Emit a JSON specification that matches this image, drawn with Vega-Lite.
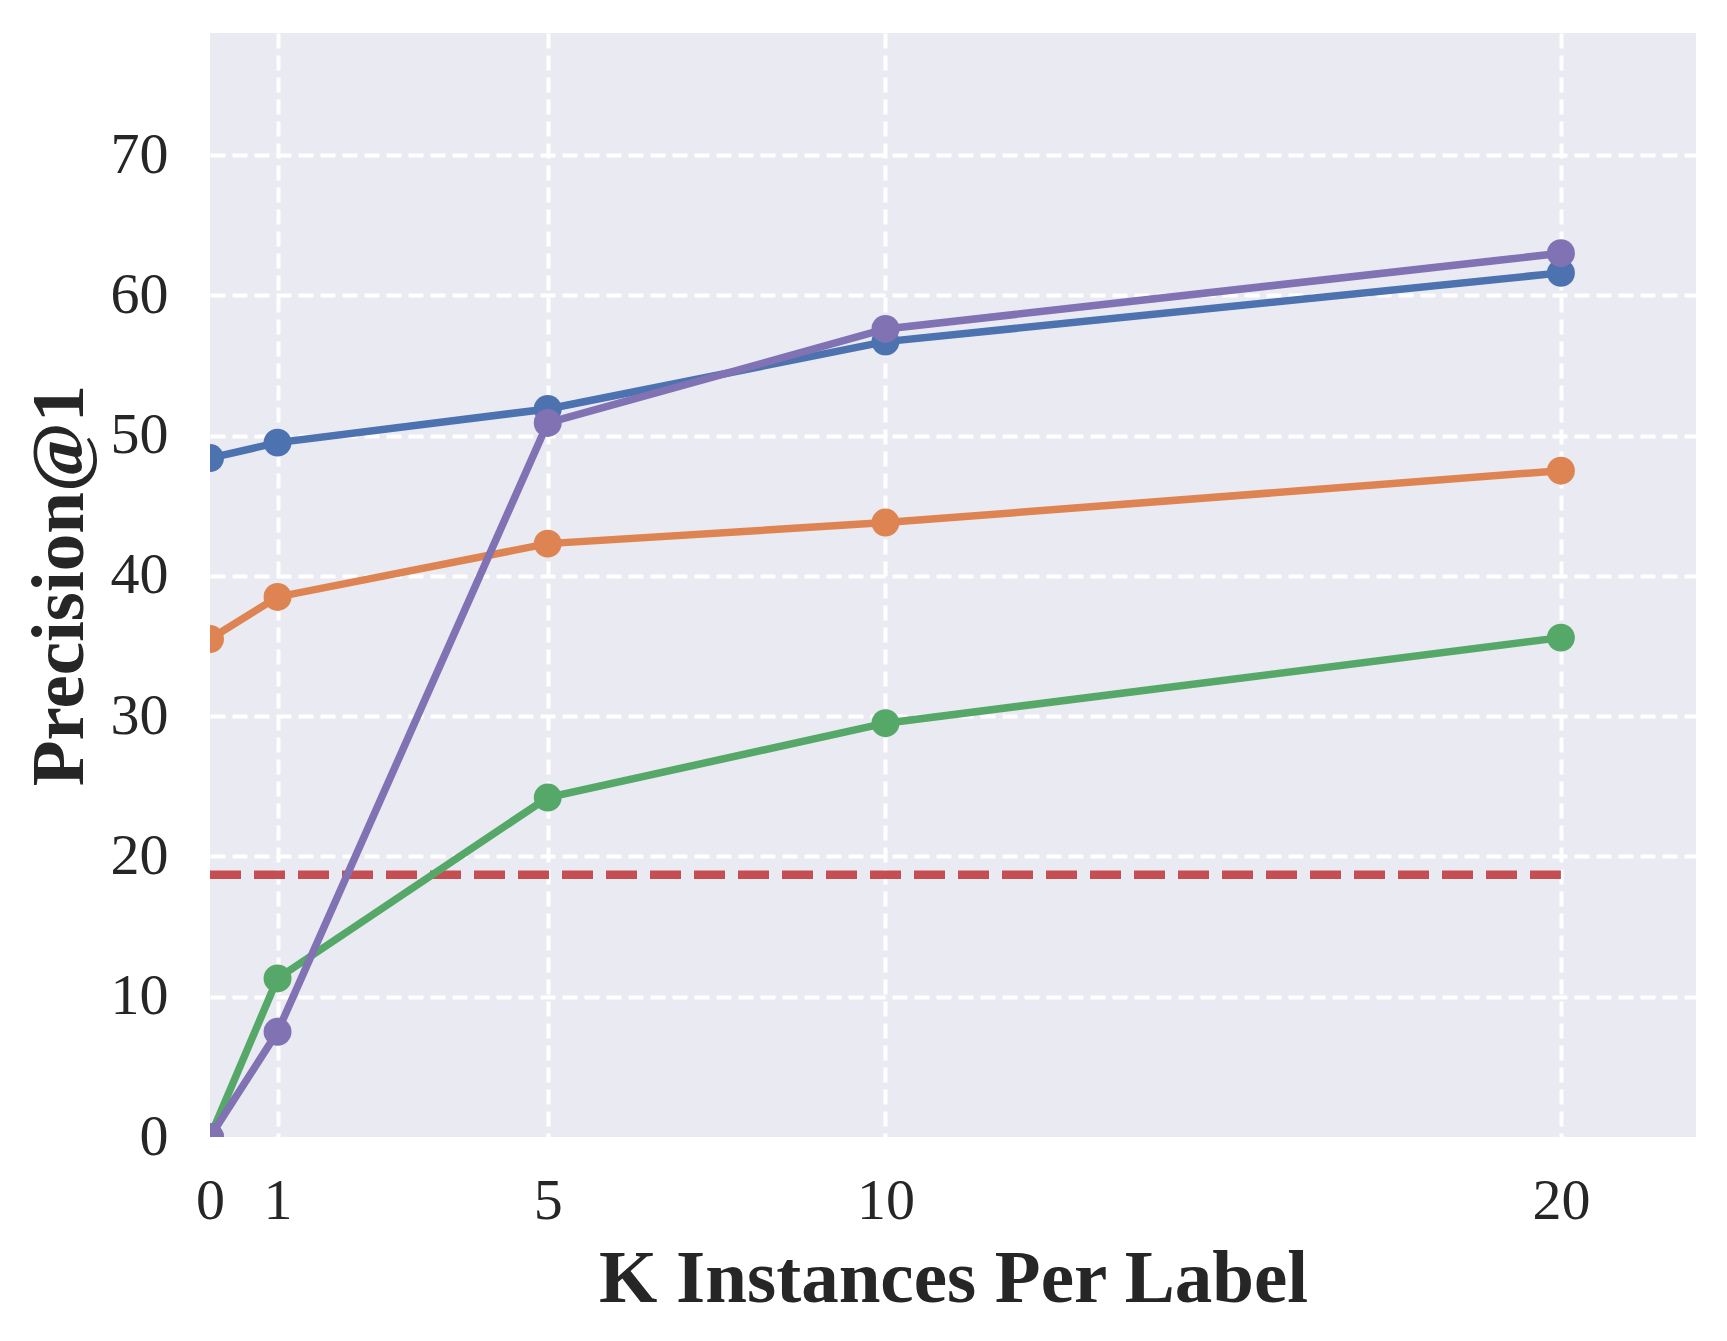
{
  "$schema": "https://vega.github.io/schema/vega-lite/v6.json",
  "width": 1486,
  "height": 1104,
  "autosize": {"type": "none"},
  "padding": {"left": 210, "top": 33, "right": 31, "bottom": 204},
  "background": "white",
  "config": {
    "view": {"fill": "#EAEAF2", "stroke": null},
    "axis": {
      "domain": false,
      "ticks": false,
      "grid": true,
      "gridColor": "white",
      "gridWidth": 4,
      "gridDash": [15, 7],
      "gridOpacity": {"condition": {"test": "datum.value === 0", "value": 0}, "value": 1},
      "labelFont": "Liberation Serif",
      "labelFontSize": 58,
      "labelColor": "#262626",
      "titleFont": "Liberation Serif",
      "titleFontSize": 75,
      "titleFontWeight": "bold",
      "titleColor": "#262626"
    }
  },
  "datasets": {
    "series": [
      {"method": "Method A", "k": 0, "p": 48.4},
      {"method": "Method A", "k": 1, "p": 49.5},
      {"method": "Method A", "k": 5, "p": 51.9},
      {"method": "Method A", "k": 10, "p": 56.7},
      {"method": "Method A", "k": 20, "p": 61.6},
      {"method": "Method B", "k": 0, "p": 35.5},
      {"method": "Method B", "k": 1, "p": 38.5},
      {"method": "Method B", "k": 5, "p": 42.3},
      {"method": "Method B", "k": 10, "p": 43.8},
      {"method": "Method B", "k": 20, "p": 47.5},
      {"method": "Method C", "k": 0, "p": 0.0},
      {"method": "Method C", "k": 1, "p": 11.3},
      {"method": "Method C", "k": 5, "p": 24.2},
      {"method": "Method C", "k": 10, "p": 29.5},
      {"method": "Method C", "k": 20, "p": 35.6},
      {"method": "Method D", "k": 0, "p": 0.0},
      {"method": "Method D", "k": 1, "p": 7.5},
      {"method": "Method D", "k": 5, "p": 50.9},
      {"method": "Method D", "k": 10, "p": 57.6},
      {"method": "Method D", "k": 20, "p": 63.0}
    ],
    "baseline": [
      {"method": "Baseline", "k": 0, "p": 18.7},
      {"method": "Baseline", "k": 20, "p": 18.7}
    ]
  },
  "encoding": {
    "x": {
      "field": "k",
      "type": "quantitative",
      "scale": {"domain": [0, 22], "nice": false, "zero": false},
      "axis": {"values": [0, 1, 5, 10, 20], "title": "K Instances Per Label", "labelPadding": 35, "titlePadding": 12, "labelFlush": false}
    },
    "y": {
      "field": "p",
      "type": "quantitative",
      "scale": {"domain": [0, 78.7], "nice": false},
      "axis": {"values": [0, 10, 20, 30, 40, 50, 60, 70], "title": "Precision@1", "labelPadding": 42, "titlePadding": 12}
    },
    "color": {
      "field": "method",
      "type": "nominal",
      "scale": {
        "domain": ["Method A", "Method B", "Method C", "Method D", "Baseline"],
        "range": ["#4C72B0", "#DD8452", "#55A868", "#8172B3", "#C44E52"]
      },
      "legend": null
    }
  },
  "layer": [
    {
      "data": {"name": "baseline"},
      "mark": {"type": "line", "strokeWidth": 8.5, "strokeDash": [31, 13], "clip": true}
    },
    {
      "data": {"name": "series"},
      "transform": [{"filter": "datum.method === 'Method A'"}],
      "mark": {"type": "line", "strokeWidth": 7.5, "clip": true}
    },
    {
      "data": {"name": "series"},
      "transform": [{"filter": "datum.method === 'Method A'"}],
      "mark": {"type": "point", "filled": true, "size": 780, "opacity": 1, "clip": true}
    },
    {
      "data": {"name": "series"},
      "transform": [{"filter": "datum.method === 'Method B'"}],
      "mark": {"type": "line", "strokeWidth": 7.5, "clip": true}
    },
    {
      "data": {"name": "series"},
      "transform": [{"filter": "datum.method === 'Method B'"}],
      "mark": {"type": "point", "filled": true, "size": 780, "opacity": 1, "clip": true}
    },
    {
      "data": {"name": "series"},
      "transform": [{"filter": "datum.method === 'Method C'"}],
      "mark": {"type": "line", "strokeWidth": 7.5, "clip": true}
    },
    {
      "data": {"name": "series"},
      "transform": [{"filter": "datum.method === 'Method C'"}],
      "mark": {"type": "point", "filled": true, "size": 780, "opacity": 1, "clip": true}
    },
    {
      "data": {"name": "series"},
      "transform": [{"filter": "datum.method === 'Method D'"}],
      "mark": {"type": "line", "strokeWidth": 7.5, "clip": true}
    },
    {
      "data": {"name": "series"},
      "transform": [{"filter": "datum.method === 'Method D'"}],
      "mark": {"type": "point", "filled": true, "size": 780, "opacity": 1, "clip": true}
    }
  ]
}
